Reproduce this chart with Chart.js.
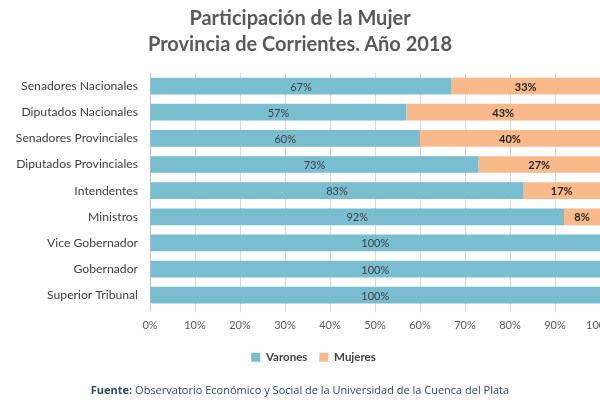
<!DOCTYPE html>
<html><head><meta charset="utf-8">
<script src="https://cdn.jsdelivr.net/npm/chart.js@4/dist/chart.umd.min.js"></script>
<style>
html,body{margin:0;padding:0;width:600px;height:400px;overflow:hidden;background:#fff;}
#wrap{position:absolute;left:0;top:0;width:640px;height:400px;}
#title{position:absolute;left:0;top:4px;width:600px;text-align:center;font:bold 20px Lato, sans-serif;color:#595959;line-height:26px;}
#source{position:absolute;left:0;top:382px;width:600px;text-align:center;font:11px "Open Sans", sans-serif;color:#2E4A62;}
#source b{font-weight:bold;}
</style></head><body>
<div id="wrap"><canvas id="c" width="640" height="400"></canvas></div>
<div id="title">Participación de la Mujer<br>Provincia de Corrientes. Año 2018</div>
<div id="source"><b>Fuente:</b> Observatorio Económico y Social de la Universidad de la Cuenca del Plata</div>
<script>
const categories = ["Senadores Nacionales","Diputados Nacionales","Senadores Provinciales","Diputados Provinciales","Intendentes","Ministros","Vice Gobernador","Gobernador","Superior Tribunal"];
const varones = [67,57,60,73,83,92,100,100,100];
const mujeres = [33,43,40,27,17,8,0,0,0];
const xTicks = [0,10,20,30,40,50,60,70,80,90,100];

const labelPlugin = {
  id:'barLabels',
  afterDatasetsDraw(chart){
    const ctx = chart.ctx;
    chart.data.datasets.forEach((ds,di)=>{
      const meta = chart.getDatasetMeta(di);
      meta.data.forEach((el,i)=>{
        const v = ds.data[i];
        if(!v) return;
        const cx = (el.x + el.base)/2;
        ctx.save();
        ctx.font = (di===1?'bold ':'') + '11px Lato, sans-serif';
        ctx.fillStyle = di===1 ? '#262626' : '#404040';
        ctx.textAlign='center'; ctx.textBaseline='middle';
        ctx.fillText(v+'%', cx, el.y+1);
        ctx.restore();
      });
    });
  }
};

new Chart(document.getElementById('c'),{
  type:'bar',
  data:{labels:categories,datasets:[
    {label:'Varones',data:varones,backgroundColor:'#79BDD1',barPercentage:0.64,categoryPercentage:1},
    {label:'Mujeres',data:mujeres,backgroundColor:'#F8BA8B',barPercentage:0.64,categoryPercentage:1}
  ]},
  options:{
    indexAxis:'y',responsive:false,animation:false,
    layout:{padding:{top:73,right:26,bottom:27,left:13}},
    plugins:{
      legend:{position:'bottom',labels:{boxWidth:9,boxHeight:9,padding:12,color:'#404040',font:{family:'Lato',size:11.5,weight:'bold'}}},
      tooltip:{enabled:false},title:{display:false}
    },
    scales:{
      x:{stacked:true,min:0,max:100,
         afterBuildTicks(s){ s.ticks = xTicks.map(v=>({value:v})); },
         afterFit(s){ s.paddingRight = 40; },
         ticks:{callback:v=>v+'%',color:'#595959',font:{family:'Lato',size:11},padding:7},
         grid:{color:'#D9D9D9',drawTicks:true,tickLength:4},border:{display:false}},
      y:{stacked:true,
         afterFit(s){ s.width = 137; },
         ticks:{color:'#404040',font:{family:'Lato',size:12.2},padding:12},
         grid:{display:false,drawTicks:false},border:{display:true,color:'#BFBFBF'}}
    }
  },
  plugins:[labelPlugin]
});
</script>
</body></html>
